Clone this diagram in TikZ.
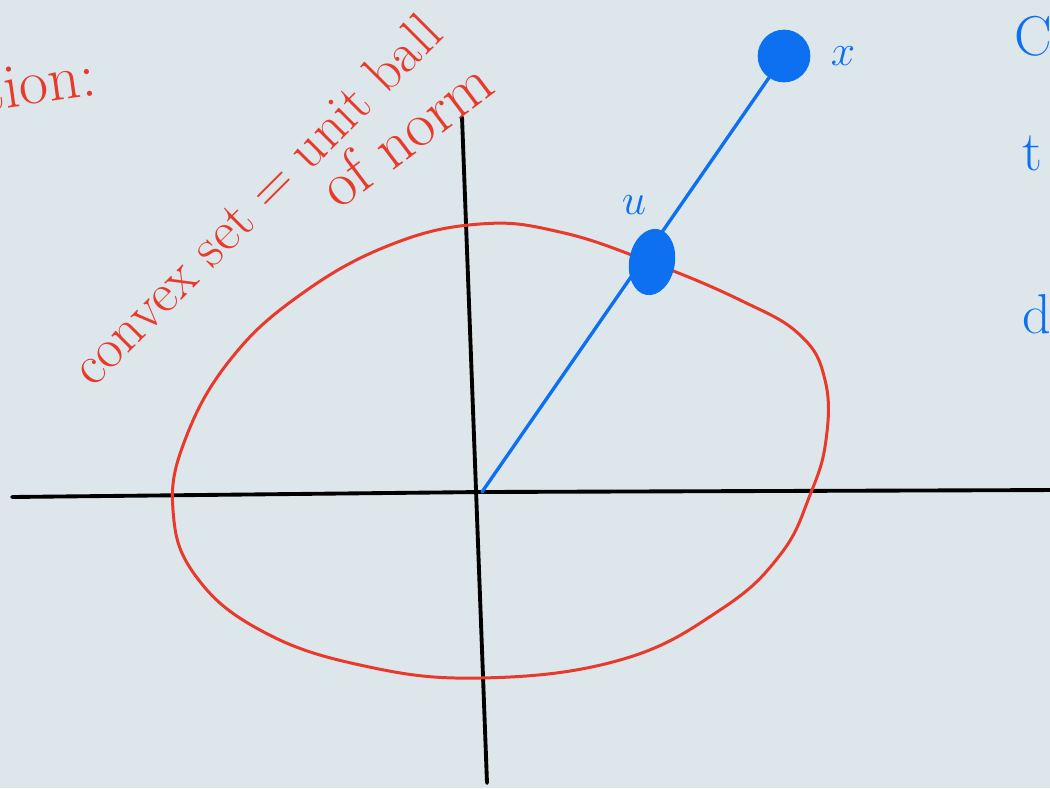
\documentclass[tikz,border=0pt]{standalone}
\usepackage{tikz}
\usetikzlibrary{shapes.geometric,positioning,calc}
\definecolor{paper}{RGB}{221,230,235}
\definecolor{penred}{RGB}{232,57,42}
\definecolor{penblue}{RGB}{12,112,240}

\begin{document}
\begin{tikzpicture}[
    x=0.02cm, y=-0.02cm,
    axis/.style={draw=black, line width=2.2pt, line cap=round},
    ball/.style={draw=penred, line width=1.7pt},
    ray/.style={draw=penblue, line width=1.9pt, line cap=round},
    hand/.style={font=\fontsize{32}{36}\selectfont},
    redtxt/.style={hand, text=penred},
    bluetxt/.style={hand, text=penblue},
    dot/.style={fill=penblue, inner sep=0pt}
]
\useasboundingbox (0,0) rectangle (1050,788);
\fill[paper] (0,0) rectangle (1050,788);
\clip (0,0) rectangle (1050,788);

% Axes
\coordinate (west) at (12,497);
\coordinate (east) at (1060,490);
\coordinate (north) at (462,117);
\coordinate (south) at (487,783);
\coordinate (origin) at (482,492);
\draw[axis] (west) -- (origin) -- (east);
\draw[axis] (north) -- (south);

% Unit ball
\draw[ball] plot[smooth cycle, tension=0.7] coordinates {
    (480,224) (560,232) (650,262) (740,300) (800,335) (825,380)
    (826,440) (810,495) (780,555) (720,610) (620,660) (480,678)
    (360,665) (260,630) (195,575) (173,510) (185,440) (230,360)
    (300,295) (390,245)};

% Nodes
\node[dot, circle, minimum size=30] (x) at (784,56) {};
\node[dot, ellipse, minimum width=26, minimum height=38, rotate=-10] (u) at (652,262) {};
\node[bluetxt, right=14 of x.east, anchor=west] (xlab) {$x$};
\node[bluetxt] (ulab) at (634,205) {$u$};

% Edges
\draw[ray] (origin) -- (x);

% Labels
\node[redtxt, anchor=base west, rotate=45, inner sep=1pt] (convex) at (92,390) {convex set = unit ball};
\node[redtxt, anchor=base west, rotate=37, inner sep=1pt, font=\fontsize{36}{40}\selectfont] (ofnorm) at (338,212) {of norm};
\node[redtxt, anchor=base west, rotate=8, font=\fontsize{36}{40}\selectfont] (tion) at (-22,112) {tion:};
\node[bluetxt, anchor=base west] (co) at (1008,55) {Co};
\node[bluetxt, anchor=base west] (to) at (1016,170) {t};
\node[bluetxt, anchor=base west] (de) at (1016,333) {d};
\end{tikzpicture}
\end{document}
